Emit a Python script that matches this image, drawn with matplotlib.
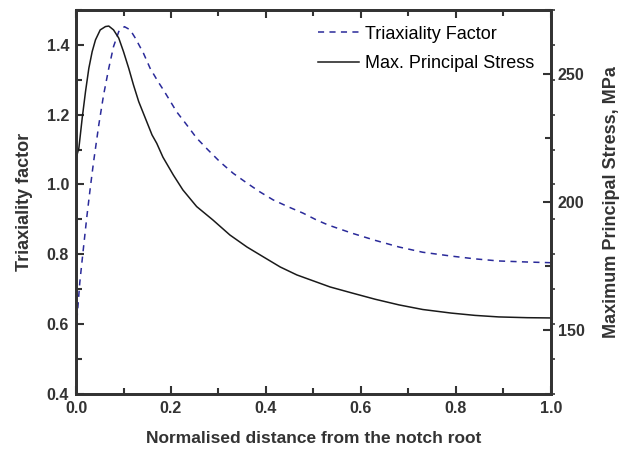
import matplotlib
matplotlib.use("Agg")
import matplotlib.pyplot as plt
from matplotlib.ticker import MultipleLocator, FormatStrFormatter

plt.rcParams['font.family'] = ['Liberation Sans', 'DejaVu Sans']

# triaxiality factor (left axis)
tri_x = [0.0, 0.008, 0.015, 0.023, 0.03, 0.037, 0.048, 0.058, 0.069, 0.079, 0.09,
         0.102, 0.114, 0.125, 0.142, 0.156, 0.173, 0.184, 0.212, 0.233, 0.254, 0.278,
         0.303, 0.331, 0.36, 0.387, 0.415, 0.447, 0.478, 0.507, 0.531, 0.58, 0.63,
         0.68, 0.73, 0.79, 0.84, 0.89, 0.95, 1.0]
tri_y = [0.58, 0.72, 0.81, 0.91, 0.99, 1.065, 1.171, 1.256, 1.333, 1.395, 1.438,
         1.452, 1.443, 1.419, 1.376, 1.333, 1.294, 1.271, 1.208, 1.171, 1.133, 1.099,
         1.065, 1.032, 1.004, 0.979, 0.956, 0.936, 0.918, 0.898, 0.884, 0.861, 0.84,
         0.821, 0.806, 0.795, 0.787, 0.781, 0.778, 0.776]

# max principal stress, MPa (right axis)
mps_x = [0.0, 0.006, 0.013, 0.02, 0.027, 0.034, 0.041, 0.051, 0.062, 0.069, 0.079,
         0.09, 0.1, 0.111, 0.121, 0.132, 0.146, 0.16, 0.17, 0.183, 0.205, 0.225,
         0.254, 0.288, 0.324, 0.36, 0.394, 0.43, 0.465, 0.535, 0.58, 0.63, 0.68,
         0.73, 0.79, 0.84, 0.89, 0.95, 1.0]
mps_y = [217, 221, 232.7, 243.1, 252.2, 258.7, 263.3, 267.2, 268.5, 268.7, 267.2,
         264, 258.7, 252.2, 245.7, 239.2, 232.7, 226.2, 222.9, 217.5, 210.5, 204.7,
         198.2, 193, 187.1, 182.4, 178.6, 174.6, 171.5, 166.8, 164.5, 162, 159.8,
         158, 156.6, 155.7, 155.1, 154.8, 154.7]

fig = plt.figure(figsize=(6.21, 4.51), dpi=100)
ax = fig.add_axes([0.1224, 0.1264, 0.7648, 0.8516])
ax2 = ax.twinx()
ax3 = ax.twinx()

l1, = ax.plot(tri_x, tri_y, color='#2a2a9a', lw=1.1, ls=(0, (4, 3.5)), label='Triaxiality Factor')
l2, = ax2.plot(mps_x, mps_y, color='#1a1a1a', lw=1.1, label='Max. Principal Stress')

ax.set_xlim(0, 1.0)
ax.set_ylim(0.4, 1.5)
ax2.set_ylim(125, 275)
ax3.set_ylim(0.4, 1.5)

ax.xaxis.set_major_locator(MultipleLocator(0.2))
ax.xaxis.set_minor_locator(MultipleLocator(0.1))
ax.yaxis.set_major_locator(MultipleLocator(0.2))
ax.yaxis.set_minor_locator(MultipleLocator(0.1))
ax.xaxis.set_major_formatter(FormatStrFormatter('%.1f'))
ax.yaxis.set_major_formatter(FormatStrFormatter('%.1f'))
ax2.yaxis.set_major_locator(MultipleLocator(50))
ax2.yaxis.set_minor_locator(MultipleLocator(25))
ax3.yaxis.set_major_locator(MultipleLocator(0.1))

ax.tick_params(which='both', direction='in', top=True, right=False, width=1.5, colors='#333333',
               labelsize=11.5, pad=5)
ax.tick_params(which='major', length=6)
ax.tick_params(which='minor', length=4)
ax2.tick_params(which='both', direction='in', width=1.5, colors='#333333', labelsize=11.5, pad=5)
ax2.tick_params(which='major', length=6)
ax2.tick_params(which='minor', length=4)
ax3.tick_params(direction='out', length=3, width=1.2, colors='#333333', labelright=False)
ax3.spines[:].set_visible(False)

for lab in ax.get_xticklabels() + ax.get_yticklabels() + ax2.get_yticklabels():
    lab.set_fontweight('bold')

for a in (ax, ax2):
    for s in a.spines.values():
        s.set_linewidth(2)
        s.set_color('#333333')

ax.set_xlabel('Normalised distance from the notch root', fontsize=12.5, fontweight='bold',
              color='#333333', labelpad=11)
ax.set_ylabel('Triaxiality factor', fontsize=13, fontweight='bold', color='#333333', labelpad=10)
ax2.set_ylabel('Maximum Principal Stress, MPa', fontsize=13, fontweight='bold', color='#333333',
               labelpad=13)

ax.legend(handles=[l1, l2], loc='upper left', frameon=False, fontsize=13,
          handlelength=2.3, handletextpad=0.3, borderpad=0, borderaxespad=0, labelspacing=0.7,
          bbox_to_anchor=(0.509, 0.959))

fig.savefig('out.png', dpi=100)
